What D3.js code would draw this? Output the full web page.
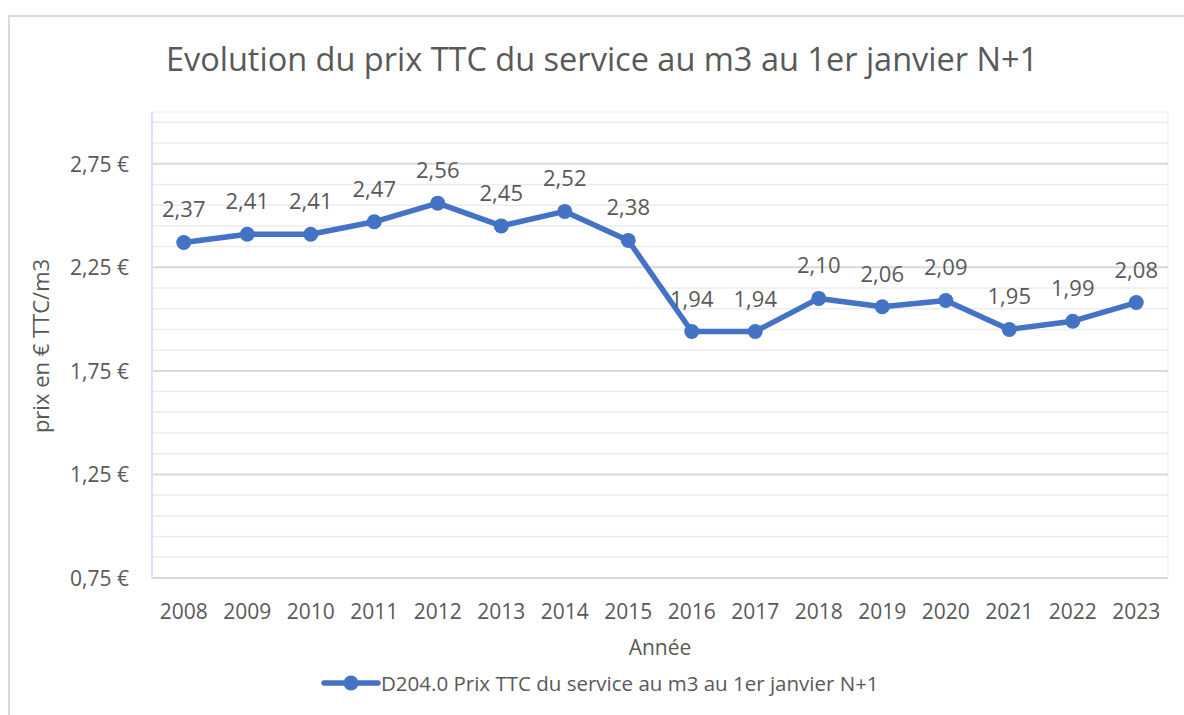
<!DOCTYPE html>
<html>
<head>
<meta charset="utf-8">
<script src="https://cdn.jsdelivr.net/npm/d3@7"></script>
<style>
  body { margin: 0; background: #fff; }
  text { font-family: "Open Sans", "Noto Sans", sans-serif; fill: #595959; }
</style>
</head>
<body>
<svg id="chart" width="1184" height="715"></svg>
<script>
// data
var years = ["2008", "2009", "2010", "2011", "2012", "2013", "2014", "2015",
    "2016", "2017", "2018", "2019", "2020", "2021", "2022", "2023"];
var prices = [2.37, 2.41, 2.41, 2.47, 2.56, 2.45, 2.52, 2.38,
    1.94, 1.94, 2.10, 2.06, 2.09, 1.95, 1.99, 2.08];
var yTicks = [0.75, 1.25, 1.75, 2.25, 2.75];

var titleText = "Evolution du prix TTC du service au m3 au 1er janvier N+1";
var seriesName = "D204.0 Prix TTC du service au m3 au 1er janvier N+1";

let width = 1184;
let height = 715;
var margin = {left: 152, right: 16, top: 112, bottom: 137};
var blue = "#4472C4";

var svg = d3.select("#chart");

// outer chart border (only top + left visible)
svg.append("path")
    .attr("d", "M9,715 L9,16 L1184,16")
    .attr("fill", "none")
    .attr("stroke", "#d9d9d9")
    .attr("stroke-width", 2);

var x = d3.scalePoint()
    .domain(years)
    .range([margin.left, width - margin.right])
    .padding(0.5);

var y = d3.scaleLinear()
    .domain([0.75, 3.0])
    .range([height - margin.bottom, margin.top]);

// title
svg.append("text")
    .attr("x", 602)
    .attr("y", 71)
    .attr("text-anchor", "middle")
    .style("font-size", "32.5px")
    .text(titleText);

// plot area border
svg.append("rect")
    .attr("x", margin.left)
    .attr("y", margin.top)
    .attr("width", width - margin.left - margin.right)
    .attr("height", height - margin.top - margin.bottom)
    .attr("fill", "none")
    .attr("stroke", "#f2f2f2")
    .attr("stroke-width", 1.5);

// gridlines: minor every 0.1, major every 0.5
var gridVals = d3.range(0, 23).map(k => +(0.75 + k * 0.1).toFixed(2)).filter(v => v <= 3.0);
svg.selectAll(".grid")
    .data(gridVals)
    .join("line")
    .attr("class", "grid")
    .attr("x1", margin.left)
    .attr("x2", width - margin.right)
    .attr("y1", d => y(d))
    .attr("y2", d => y(d))
    .attr("stroke", d => yTicks.indexOf(d) >= 0 ? "#d9d9d9" : "#ececec")
    .attr("stroke-width", d => yTicks.indexOf(d) >= 0 ? 2 : 1.5);

// left axis line
svg.append("line")
    .attr("x1", margin.left).attr("x2", margin.left)
    .attr("y1", margin.top).attr("y2", y(0.75))
    .attr("stroke", "#dae3f3")
    .attr("stroke-width", 2);

// y tick labels
var fmt = d => d.toFixed(2).replace(".", ",") + " €";
svg.selectAll(".ytick")
    .data(yTicks)
    .join("text")
    .attr("class", "ytick")
    .attr("x", 129)
    .attr("y", d => y(d) + 8)
    .attr("text-anchor", "end")
    .style("font-size", "21px")
    .text(fmt);

// x tick labels
svg.selectAll(".xtick")
    .data(years)
    .join("text")
    .attr("class", "xtick")
    .attr("x", d => x(d))
    .attr("y", 619)
    .attr("text-anchor", "middle")
    .style("font-size", "21px")
    .text(d => d);

// axis titles
svg.append("text")
    .attr("x", 660)
    .attr("y", 655)
    .attr("text-anchor", "middle")
    .style("font-size", "21px")
    .text("Année");

svg.append("text")
    .attr("transform", "translate(49," + 346 + ") rotate(-90)")
    .attr("text-anchor", "middle")
    .style("font-size", "22px")
    .text("prix en € TTC/m3");

// line
var line = d3.line()
    .x((d, i) => x(years[i]))
    .y(d => y(d));

svg.append("path")
    .datum(prices)
    .attr("d", line)
    .attr("fill", "none")
    .attr("stroke", blue)
    .attr("stroke-width", 5.5)
    .attr("stroke-linejoin", "round");

svg.selectAll(".dot")
    .data(prices)
    .join("circle")
    .attr("class", "dot")
    .attr("cx", (d, i) => x(years[i]))
    .attr("cy", d => y(d))
    .attr("r", 7.5)
    .attr("fill", blue);

// data labels
svg.selectAll(".vlabel")
    .data(prices)
    .join("text")
    .attr("class", "vlabel")
    .attr("x", (d, i) => x(years[i]))
    .attr("y", d => y(d) - 25)
    .attr("text-anchor", "middle")
    .style("font-size", "22px")
    .text(d => d.toFixed(2).replace(".", ","));

// legend
var legend = svg.append("g");
legend.append("line")
    .attr("x1", 324).attr("x2", 378)
    .attr("y1", 683).attr("y2", 683)
    .attr("stroke", blue)
    .attr("stroke-width", 5.5)
    .attr("stroke-linecap", "round");
legend.append("circle")
    .attr("cx", 351).attr("cy", 683).attr("r", 7.5)
    .attr("fill", blue);
legend.append("text")
    .attr("x", 381)
    .attr("y", 691)
    .style("font-size", "20.5px")
    .text(seriesName);
</script>
</body>
</html>
